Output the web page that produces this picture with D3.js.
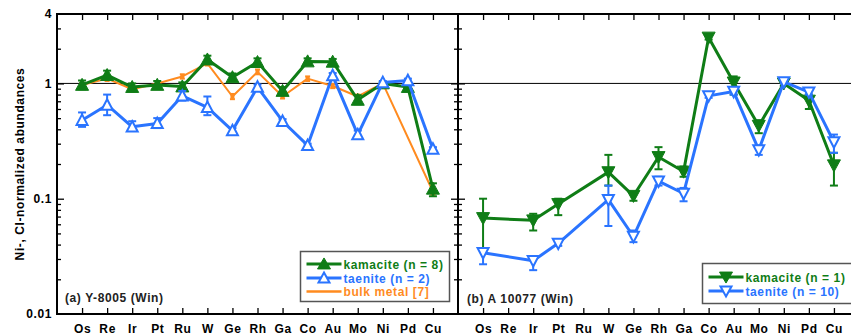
<!DOCTYPE html>
<html><head><meta charset="utf-8">
<script src="https://cdn.jsdelivr.net/npm/d3@7"></script>
<style>
html,body{margin:0;padding:0;background:#fff;}
svg text{font-family:"Liberation Sans",Arial,sans-serif;font-weight:bold;letter-spacing:0.6px;}
</style></head>
<body><svg id="c" width="851" height="335"></svg>
<script>
const elements = ["Os","Re","Ir","Pt","Ru","W","Ge","Rh","Ga","Co","Au","Mo","Ni","Pd","Cu"];
const yTickValues = [0.01,0.1,1,4];
const yTickLabels = ["0.01","0.1","1","4"];

// Panel (a) Y-8005
const kamA    = [0.97,1.18,0.93,0.97,0.94,1.61,1.13,1.53,0.86,1.55,1.54,0.72,1.0,0.93,0.122];
const kamA_lo = [0.89,1.09,0.86,0.90,0.87,1.50,1.05,1.42,0.80,1.45,1.45,0.66,0.97,0.88,0.105];
const kamA_hi = [1.06,1.29,1.00,1.05,1.02,1.74,1.22,1.65,0.93,1.65,1.63,0.79,1.03,0.98,0.136];
const taeA    = [0.48,0.65,0.42,0.45,0.78,0.62,0.39,0.93,0.47,0.29,1.17,0.36,1.02,1.06,0.27];
const taeA_lo = [0.42,0.53,0.39,0.41,0.71,0.53,0.37,0.87,0.45,0.28,1.10,0.33,0.99,1.02,0.26];
const taeA_hi = [0.56,0.80,0.47,0.50,0.86,0.77,0.41,0.98,0.49,0.30,1.23,0.39,1.05,1.10,0.28];
const bulkA    = [0.97,1.10,0.89,1.00,1.15,1.49,0.77,1.26,0.77,1.10,0.95,0.77,1.0,null,0.115];
const bulkA_lo = [0.93,1.05,0.85,0.96,1.10,1.43,0.73,1.20,0.74,1.05,0.91,0.74,0.97,null,0.108];
const bulkA_hi = [1.01,1.15,0.93,1.04,1.20,1.55,0.81,1.32,0.80,1.15,0.99,0.80,1.03,null,0.122];

// Panel (b) A 10077
const kamB    = [0.068,null,0.065,0.090,null,0.170,0.106,0.230,0.172,2.50,1.02,0.43,1.00,0.71,0.195];
const kamB_lo = [0.037,null,0.053,0.072,null,0.130,0.096,0.180,0.155,2.40,0.80,0.37,0.95,0.60,0.130];
const kamB_hi = [0.100,null,0.074,0.100,null,0.240,0.115,0.280,0.190,2.60,1.15,0.48,1.05,0.80,0.250];
const taeB    = [0.034,null,0.029,0.041,null,0.098,0.047,0.142,0.111,0.78,0.85,0.265,1.03,0.84,0.31];
const taeB_lo = [0.027,null,0.024,0.039,null,0.058,0.042,0.130,0.095,0.75,0.80,0.240,1.00,0.80,0.25];
const taeB_hi = [0.037,null,0.031,0.043,null,0.130,0.053,0.155,0.124,0.81,0.90,0.290,1.06,0.88,0.36];

const GREEN="#0f7d16", BLUE="#2a74ff", ORANGE="#ff8b1f";

const svg = d3.select("#c");
const yTop=14, yBot=314;
const y = d3.scaleLog().domain([0.01,4]).range([yBot,yTop]);
const xA = d3.scalePoint().domain(elements).range([57,458]).padding(1);
const xB = d3.scalePoint().domain(elements).range([458,859]).padding(1);

const minor = [];
[0.01,0.1,1].forEach(d=>{for(let k=2;k<=9;k++){const v=d*k; if(v<4) minor.push(v);}});
const major = [0.1,1];

function styleTicks(g){ g.select(".domain").remove(); g.selectAll("line").attr("stroke","#000").attr("stroke-width",1.3); }

function frame(x, x0, x1, labelPad){
  svg.append("g").attr("transform",`translate(0,${yTop})`)
    .call(d3.axisTop(x).tickSize(-6).tickFormat("")).call(styleTicks);
  svg.append("g").attr("transform",`translate(0,${yBot})`)
    .call(d3.axisBottom(x).tickSize(-6).tickPadding(labelPad)).call(styleTicks)
    .call(g=>g.selectAll("text").attr("fill","#000").attr("font-size",12));
  svg.append("g").attr("transform",`translate(${x0},0)`)
    .call(d3.axisLeft(y).tickValues(major).tickSize(-7).tickFormat("")).call(styleTicks);
  svg.append("g").attr("transform",`translate(${x0},0)`)
    .call(d3.axisLeft(y).tickValues(minor).tickSize(-4).tickFormat("")).call(styleTicks);
  svg.append("g").attr("transform",`translate(${x1},0)`)
    .call(d3.axisRight(y).tickValues(major).tickSize(-7).tickFormat("")).call(styleTicks);
  svg.append("g").attr("transform",`translate(${x1},0)`)
    .call(d3.axisRight(y).tickValues(minor).tickSize(-4).tickFormat("")).call(styleTicks);
  svg.append("rect").attr("x",x0).attr("y",yTop).attr("width",x1-x0).attr("height",yBot-yTop)
    .attr("fill","none").attr("stroke","#000").attr("stroke-width",2);
}

frame(xA,57,458,10);
frame(xB,458,859,10);

svg.append("g").attr("transform","translate(57,0)")
  .call(d3.axisLeft(y).tickValues(yTickValues).tickSize(0).tickPadding(5)
     .tickFormat((d,i)=>yTickLabels[i]))
  .call(g=>g.select(".domain").remove())
  .selectAll("text").attr("font-size",12).attr("fill","#000");

svg.append("line").attr("x1",57).attr("x2",851).attr("y1",y(1)).attr("y2",y(1))
  .attr("stroke","#000").attr("stroke-width",1);

svg.append("text").attr("transform",`translate(24,164) rotate(-90)`)
  .attr("text-anchor","middle").attr("font-size",12).text("Ni-, CI-normalized abundances");

function tri(up, hw, h){
  const a = up ? -h*0.55 : h*0.55, b = up ? h*0.45 : -h*0.45;
  return `M0,${a}L${hw},${b}L${-hw},${b}Z`;
}

function series(x, vals, lo, hi, color, lw, marker){
  const pts = elements.map((e,i)=>({e,v:vals[i],lo:lo[i],hi:hi[i]})).filter(d=>d.v!=null);
  const g = svg.append("g");
  g.append("path").datum(pts)
    .attr("d", d3.line().x(d=>x(d.e)).y(d=>y(d.v)))
    .attr("fill","none").attr("stroke",color).attr("stroke-width",lw).attr("stroke-linejoin","round");
  const cw = marker.cap;
  const eb = g.selectAll(".eb").data(pts).enter().append("g");
  eb.append("line").attr("x1",d=>x(d.e)).attr("x2",d=>x(d.e)).attr("y1",d=>y(d.lo)).attr("y2",d=>y(d.hi))
    .attr("stroke",color).attr("stroke-width",2);
  eb.append("line").attr("x1",d=>x(d.e)-cw).attr("x2",d=>x(d.e)+cw).attr("y1",d=>y(d.lo)).attr("y2",d=>y(d.lo))
    .attr("stroke",color).attr("stroke-width",2);
  eb.append("line").attr("x1",d=>x(d.e)-cw).attr("x2",d=>x(d.e)+cw).attr("y1",d=>y(d.hi)).attr("y2",d=>y(d.hi))
    .attr("stroke",color).attr("stroke-width",2);
  const m = g.selectAll(".m").data(pts).enter().append("path")
    .attr("transform",d=>`translate(${x(d.e)},${y(d.v)})`);
  if(marker.type==="square"){
    m.attr("d","M-2,-2H2V2H-2Z").attr("fill",color);
  } else {
    m.attr("d",tri(marker.up, marker.filled?6.5:5.5, marker.filled?12:10.5))
     .attr("fill",marker.filled?color:"#fff").attr("stroke",color)
     .attr("stroke-width",marker.filled?1:2).attr("stroke-linejoin","miter");
  }
}

series(xA, bulkA, bulkA_lo, bulkA_hi, ORANGE, 2, {type:"square",cap:2.5});
series(xA, kamA, kamA_lo, kamA_hi, GREEN, 3, {type:"tri",up:true,filled:true,cap:4});
series(xA, taeA, taeA_lo, taeA_hi, BLUE, 3, {type:"tri",up:true,filled:false,cap:4});
series(xB, kamB, kamB_lo, kamB_hi, GREEN, 3, {type:"tri",up:false,filled:true,cap:4});
series(xB, taeB, taeB_lo, taeB_hi, BLUE, 3, {type:"tri",up:false,filled:false,cap:4});

svg.append("text").attr("x",65).attr("y",302).attr("font-size",12).attr("fill","#222").text("(a) Y-8005 (Win)");
svg.append("text").attr("x",467).attr("y",303).attr("font-size",12).attr("fill","#222").text("(b) A 10077 (Win)");

function legend(x0,y0,w,h,items){
  svg.append("rect").attr("x",x0).attr("y",y0).attr("width",w).attr("height",h)
    .attr("fill","#fff").attr("stroke","#555").attr("stroke-width",1.5);
  items.forEach(it=>{
    const lx=x0+6, rx=x0+41, cy=it.y;
    svg.append("line").attr("x1",lx).attr("x2",rx).attr("y1",cy).attr("y2",cy)
      .attr("stroke",it.color).attr("stroke-width",it.lw);
    if(it.marker){
      svg.append("path").attr("transform",`translate(${(lx+rx)/2},${cy})`)
        .attr("d",tri(it.marker.up, it.marker.filled?6.5:5.5, it.marker.filled?11:10))
        .attr("fill",it.marker.filled?it.color:"#fff").attr("stroke",it.color)
        .attr("stroke-width",it.marker.filled?1:2);
    }
    svg.append("text").attr("x",rx+2).attr("y",cy+4.5).attr("font-size",12)
      .attr("fill",it.color).text(it.label);
  });
}
legend(300.5,251.5,149,50,[
  {y:264,color:GREEN,lw:3,label:"kamacite (n = 8)",marker:{up:true,filled:true}},
  {y:278,color:BLUE,lw:3,label:"taenite (n = 2)",marker:{up:true,filled:false}},
  {y:291.5,color:ORANGE,lw:2.5,label:"bulk metal [7]"}
]);
legend(702.5,263.5,160,40,[
  {y:277,color:GREEN,lw:3,label:"kamacite (n = 1)",marker:{up:false,filled:true}},
  {y:291,color:BLUE,lw:3,label:"taenite (n = 10)",marker:{up:false,filled:false}}
]);
</script></body></html>
